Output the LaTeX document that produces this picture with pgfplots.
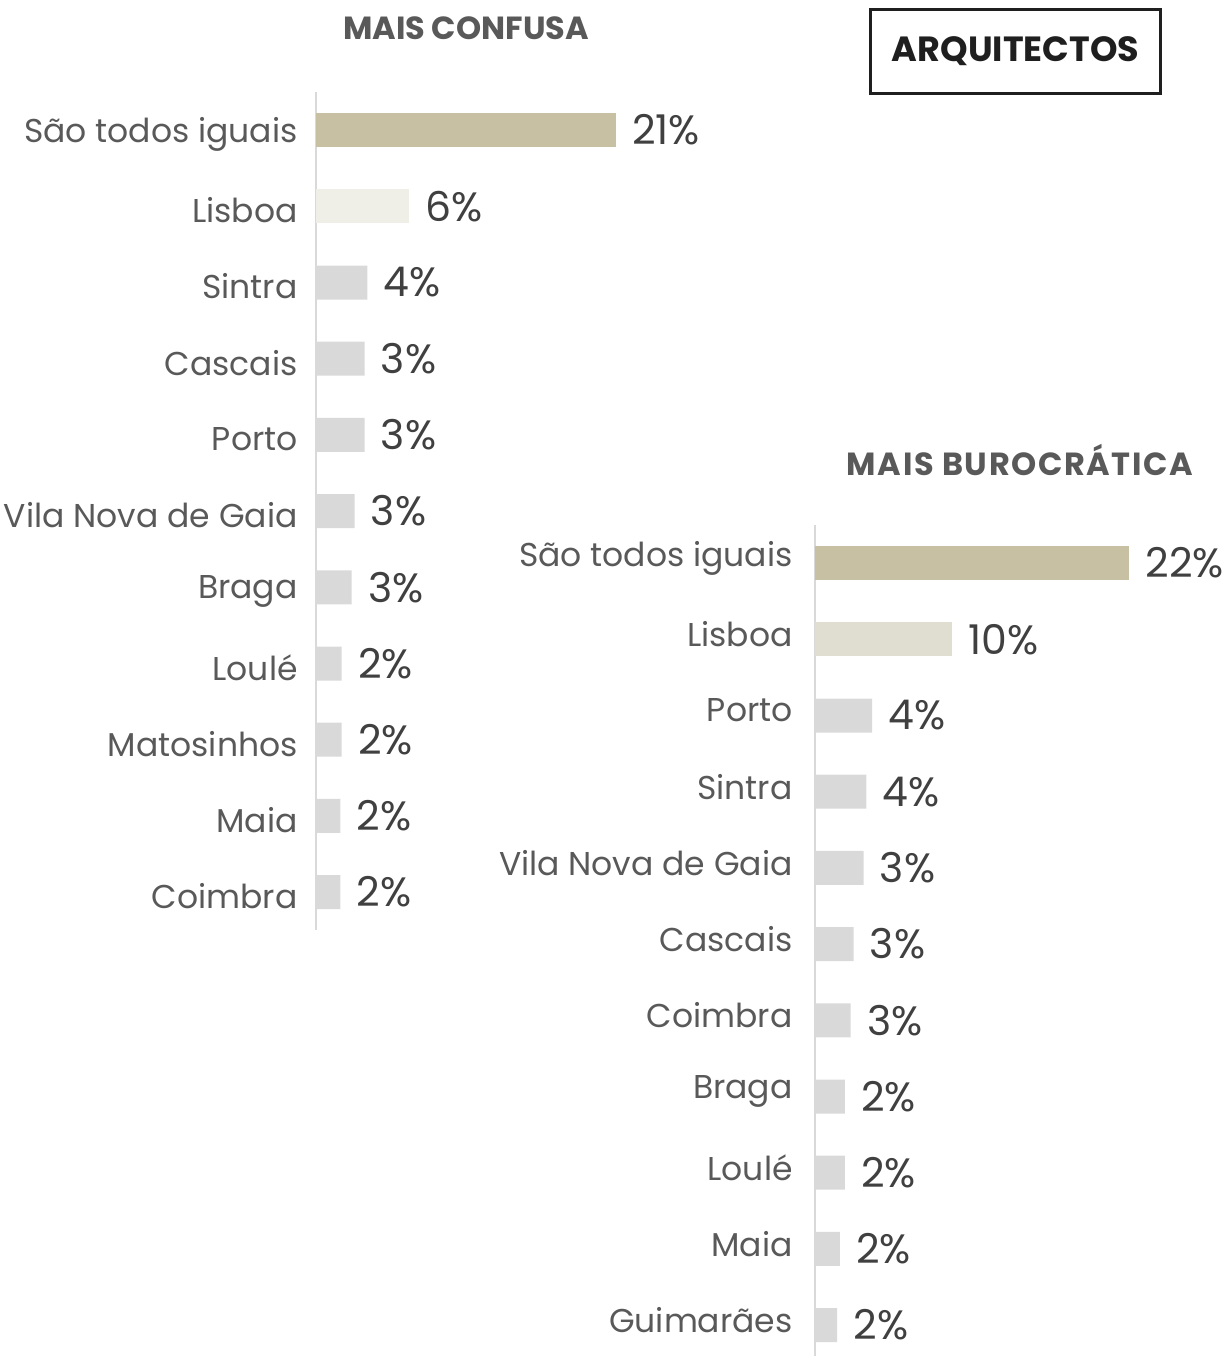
\documentclass[border=0pt]{standalone}
\usepackage{fontspec}
\setmainfont{Poppins}
\usepackage{pgfplots}
\pgfplotsset{compat=1.18}
\definecolor{tanc}{HTML}{C8C0A3}
\definecolor{lisL}{HTML}{EFEFE7}
\definecolor{lisR}{HTML}{E0DED0}
\definecolor{barg}{HTML}{D9D9D9}
\definecolor{axg}{HTML}{D9D9D9}
\definecolor{labg}{HTML}{595959}
\definecolor{valg}{HTML}{404040}
\definecolor{titg}{HTML}{595959}
\pgfplotsset{mybars/.style={
  xbar, bar width=17pt, bar shift=0pt,
  x=7.14pt, y=38.1pt, y dir=reverse,
  xmin=0, xmax=30, ymin=-0.5,
  axis x line=none, axis y line*=left,
  y axis line style={draw=axg, line width=1pt},
  ytick={0,...,10}, major tick length=0pt, ytick style={draw=none},
  yticklabel style={font=\fontsize{16.5}{20}\selectfont, text=labg, inner sep=0pt, anchor=east},
  point meta=explicit symbolic,
  nodes near coords, nodes near coords align=horizontal,
  every node near coord/.append style={font=\fontsize{20.5}{24}\selectfont, text=valg, inner sep=0pt, anchor=west, xshift=8pt},
  clip=false,
}}
\begin{document}
\begin{tikzpicture}
\path[use as bounding box] (0,0) rectangle (615pt,-678pt);
\begin{axis}[mybars, at={(158pt,-46pt)}, anchor=north west, ymax=10.5,
  yticklabels={São todos iguais, Lisboa, Sintra, Cascais, Porto, Vila Nova de Gaia, Braga, Loulé, Matosinhos, Maia, Coimbra},
  yticklabel style={xshift=-9pt, yshift=-2pt}]
\addplot[fill=tanc, draw=none] coordinates {(21,0) [21\%]};
\addplot[fill=lisL, draw=none] coordinates {(6.5,1) [6\%]};
\addplot[fill=barg, draw=none] coordinates {
(3.6,2) [4\%] (3.4,3) [3\%] (3.4,4) [3\%] (2.7,5) [3\%] (2.5,6) [3\%]
(1.8,7) [2\%] (1.8,8) [2\%] (1.7,9) [2\%] (1.7,10) [2\%]};
\end{axis}
\begin{axis}[mybars, at={(407.5pt,-262.5pt)}, anchor=north west, ymax=10.4,
  yticklabels={São todos iguais, Lisboa, Porto, Sintra, Vila Nova de Gaia, Cascais, Coimbra, Braga, Loulé, Maia, Guimarães},
  yticklabel style={xshift=-11pt, yshift=2.5pt}]
\addplot[fill=tanc, draw=none] coordinates {(22,0) [22\%]};
\addplot[fill=lisR, draw=none] coordinates {(9.6,1) [10\%]};
\addplot[fill=barg, draw=none] coordinates {
(4.0,2) [4\%] (3.6,3) [4\%] (3.4,4) [3\%] (2.7,5) [3\%] (2.5,6) [3\%]
(2.1,7) [2\%] (2.1,8) [2\%] (1.75,9) [2\%] (1.55,10) [2\%]};
\end{axis}
\node[font=\bfseries\fontsize{16}{18}\selectfont, text=titg] at (233pt,-14pt) {MAIS CONFUSA};
\node[font=\bfseries\fontsize{16}{18}\selectfont\addfontfeature{LetterSpace=5}, text=titg] at (510pt,-230pt) {MAIS BUROCRÁTICA};
\node[draw=black!88, line width=1.5pt, minimum width=145pt, minimum height=42pt, inner sep=0pt,
  font=\bfseries\fontsize{17.5}{20}\selectfont, text=black!88] at (507.75pt,-25.75pt) {ARQUITECTOS};
\end{tikzpicture}
\end{document}
